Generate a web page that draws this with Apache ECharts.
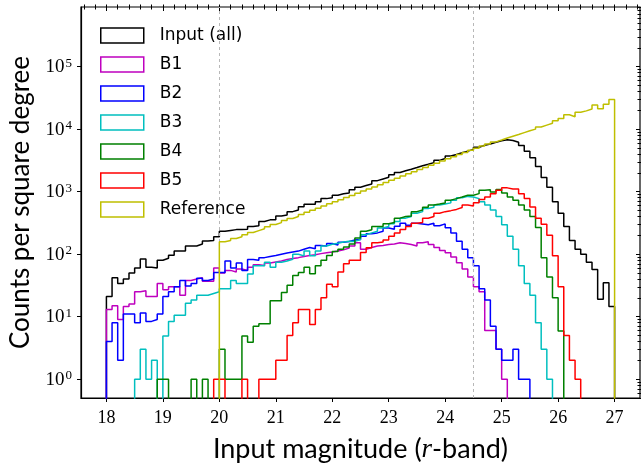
<!DOCTYPE html>
<html><head><meta charset="utf-8">
<script src="https://cdn.jsdelivr.net/npm/echarts@6/dist/echarts.min.js"></script>
<style>html,body{margin:0;padding:0;background:#fff}#c{width:641px;height:468px}</style>
</head><body><div id="c"></div><script>
// histogram bins: 18.0 .. 27.0, width 0.1
const binStart = 18, binWidth = 0.1;
const seriesNames = ['Input (all)','B1','B2','B3','B4','B5','Reference'];
const xTicks = [18,19,20,21,22,23,24,25,26,27];
const yTicks = [1,10,100,1000,10000,100000];
const refLines = [20, 24.5];

const inputAll = [21,42,34,40,50,60,84,62,60,80, 86,96,112,112,135,135,145,162,165,190,
 232,240,247,247,250,278,285,333,354,354, 409,425,479,509,573,631,631,687,774,802,
 875,927,950,1070,1180,1256,1330,1500,1595,1695, 1866,2030,2160,2290,2430,2590,2740,2915,3170,3400,
 3713,3940,4190,4450,4710,5140,5530,5790,6170,6530, 6760,6600,6170,5500,4450,3490,2520,1690,1180,687,
 450,277,166,120,100,74,57,19,35,14.5];
const b1 = [13,15,9,14.5,16,25,26,21,21,34, 27,30,30,22,38,40,42,37,37,60,
 50,55,52,58,55,62,68,66,72,75, 78,82,85,88,92,95,98,102,105,108,
 112,118,125,135,152,120,128,135,138,143, 146,152,148,143,135,152,158,143,128,114,
 105,90,73,58,43,30,25,6,6,3, 1,0,0,0,0,0,0,0,0,0, 0,0,0,0,0,0,0,0,0,0];
const b2 = [4,8,2,11,11,8,11.4,8.4,9,11, 21,25,30,38,31,34,41,38,40,51,
 51,78,60,72,55,82,80,88,92,95, 100,104,108,112,120,128,122,138,135,148,
 140,155,160,168,172,194,213,219,232,262, 250,280,313,290,313,305,296,313,285,305,
 265,219,161,120,88,65,28,18.5,7,3, 2,2,3,1,1,0,0,0,0,0, 0,0,0,0,0,0,0,0,0,0];
const b3 = [0,0,0,0,0,1,3,1,2,0, 4.9,8.4,10.5,10.5,16.4,18.5,22,22,23.5,25,
 28,28,38,34,34,48,65,65,74,62, 74,78,83,100,94,112,94,112,135,144,
 149,156,161,160,172,205,219,232,262,278, 307,333,377,401,450,479,540,562,611,633,
 662,732,800,840,820,774,687,611,509,401, 296,194,120,65,34,22,8,3,1,0, 0,0,0,0,0,0,0,0,0,0];
const b4 = [0,0,0,0,0,0,0,0,0,1, 1,0,0,0,0,1,0,1,0,0,
 3,1,1,1,4.9,3.9,7,7.7,7.7,17.9, 17.9,24.4,31.8,45.6,51,62,48.5,65,80,95,
 110,120,130,145,182,232,246,277,277,307, 322,377,401,408,479,509,562,611,633,658,
 732,774,820,875,875,930,1050,1070,985,1080, 950,820,732,611,509,401,266,88,43,20, 5.9,0,0,0,0,0,0,0,0,0];
const b5 = [0,0,0,0,0,0,0,0,0,0, 0,0,0,0,0,0,0,0,0,1,
 1,0,0,0,1,0,0,1,1,1, 2,2,5,8,13,13,7.5,13,20,33,
 30,52,70,80,80,106,127,152,156,168, 194,219,247,278,313,321,376,400,450,479,
 497,520,559,610,588,662,746,820,930,1050, 1150,1100,1100,930,780,570,375,300,200,94, 30,5,2,1,0,0,0,0,0,0];
const reference = [0,0,0,0,0,0,0,0,0,0, 0,0,0,0,0,0,0,0,0,0,
 158,165,178,190,205,222,238,255,275,298, 320,345,372,400,432,468,505,545,590,640,
 690,745,805,870,940,1020,1100,1190,1290,1400, 1520,1640,1780,1930,2090,2260,2440,2640,2860,3100,
 3350,3620,3920,4240,4590,4960,5370,5800,6250,6700, 7200,7700,8200,8800,9400,10000,10800,11600,12400,13600,
 14800,17000,15800,18600,19600,21000,24300,21300,25000,29800];

const allData = [inputAll,b1,b2,b3,b4,b5,reference];
const colors = ['#000000','#bf00bf','#0000ff','#00bfbf','#008000','#ff0000','#bfbf00'];

const FLOOR = 1e-3;
function stepData(vals){
  const pts = [[binStart, FLOOR]];
  vals.forEach((v,i)=>{
    const x0 = +(binStart + i*binWidth).toFixed(2), x1 = +(binStart + (i+1)*binWidth).toFixed(2);
    const y = v > 0 ? v : FLOOR;
    pts.push([x0,y],[x1,y]);
  });
  pts.push([+(binStart + vals.length*binWidth).toFixed(2), FLOOR]);
  return pts;
}
const xMinor = []; for (let k=0;k<=49;k++){ const v=+(17.6+0.2*k).toFixed(1); if (v<=27.45) xMinor.push(v); }
const yMinor = []; for (let e=-1;e<=5;e++){ for (let m=2;m<=9;m++){ const v=m*Math.pow(10,e); if (v>=0.5 && v<=9e5) yMinor.push(+v.toPrecision(2)); } }

const serif = 'Liberation Serif';
const sans = 'Lato';
const XMIN=17.55, XMAX=27.45, YMIN=0.5, YMAX=9e5;
function xAx(vals, inside, len, labels){
  return {type:'value', min:XMIN, max:XMAX, gridIndex:0,
    axisLine:{show:labels, onZero:false, lineStyle:{color:'#000', width:1.2}},
    splitLine:{show:false},
    axisTick:{show:true, inside:inside, length:len, customValues:vals, lineStyle:{color:'#000', width:1}},
    axisLabel:{show:labels, customValues:vals, fontFamily:serif, fontSize:18, color:'#000', margin:11},
    name: labels ? 'Input magnitude ({i|r}-band)' : '', nameLocation:'middle', nameGap:38,
    nameTextStyle:{fontFamily:sans, fontSize:27, color:'#000', rich:{i:{fontFamily:serif, fontStyle:'italic', fontSize:27}}}
  };
}
function yAx(vals, inside, len, labels){
  return {type:'log', logBase:10, min:YMIN, max:YMAX, gridIndex:0,
    axisLine:{show:labels, onZero:false, lineStyle:{color:'#000', width:1.2}},
    splitLine:{show:false},
    axisTick:{show:true, inside:inside, length:len, customValues:vals, lineStyle:{color:'#000', width:1}},
    axisLabel:{show:labels, customValues:vals, margin:9,
      formatter:(v)=>'{b|10}{s|'+Math.round(Math.log10(v))+'}',
      rich:{b:{fontFamily:serif, fontSize:19, color:'#000', lineHeight:20, verticalAlign:'bottom'},
            s:{fontFamily:serif, fontSize:13, color:'#000', lineHeight:20, verticalAlign:'top', padding:[0,0,0,1]}}},
    name: labels ? 'Counts per square degree' : '', nameLocation:'middle', nameGap:47,
    nameTextStyle:{fontFamily:sans, fontSize:26, color:'#000'}
  };
}

const series = allData.map((d,i)=>({
  name: seriesNames[i], type:'line', data: stepData(d), xAxisIndex:0, yAxisIndex:0,
  showSymbol:false, symbol:'none', animation:false, clip:true, z: 2+i,
  lineStyle:{color:colors[i], width:1.5}, itemStyle:{color:colors[i]}
}));
series[0].markLine = {silent:true, symbol:['none','none'], label:{show:false}, animation:false,
  lineStyle:{type:[3,3], color:'#b8b8b8', width:1},
  data: refLines.map(v=>({xAxis:v}))};

const chart = echarts.init(document.getElementById('c'), null, {renderer:'canvas'});
chart.setOption({
  backgroundColor:'#fff', animation:false,
  grid:{left:81, top:7, width:559, height:397, show:true, borderColor:'#000', borderWidth:1.2, backgroundColor:'transparent'},
  xAxis:[xAx(xTicks,false,4,true), xAx(xTicks,true,4,false), xAx(xMinor,false,2.5,false), xAx(xMinor,true,2.5,false)],
  yAxis:[yAx(yTicks,false,4,true), yAx(yTicks,true,4,false), yAx(yMinor,false,2.5,false), yAx(yMinor,true,2.5,false)],
  legend:{orient:'vertical', left:100, top:27, padding:0, icon:'rect', itemWidth:43, itemHeight:15, itemGap:12,
    textStyle:{fontFamily:'DejaVu Sans', fontSize:17, color:'#000', padding:[0,0,0,11]},
    data: seriesNames.map((n,i)=>({name:n, icon:'rect', itemStyle:{color:'#ffffff', borderColor:colors[i], borderWidth:1.5}}))},
  series: series
});
</script></body></html>
